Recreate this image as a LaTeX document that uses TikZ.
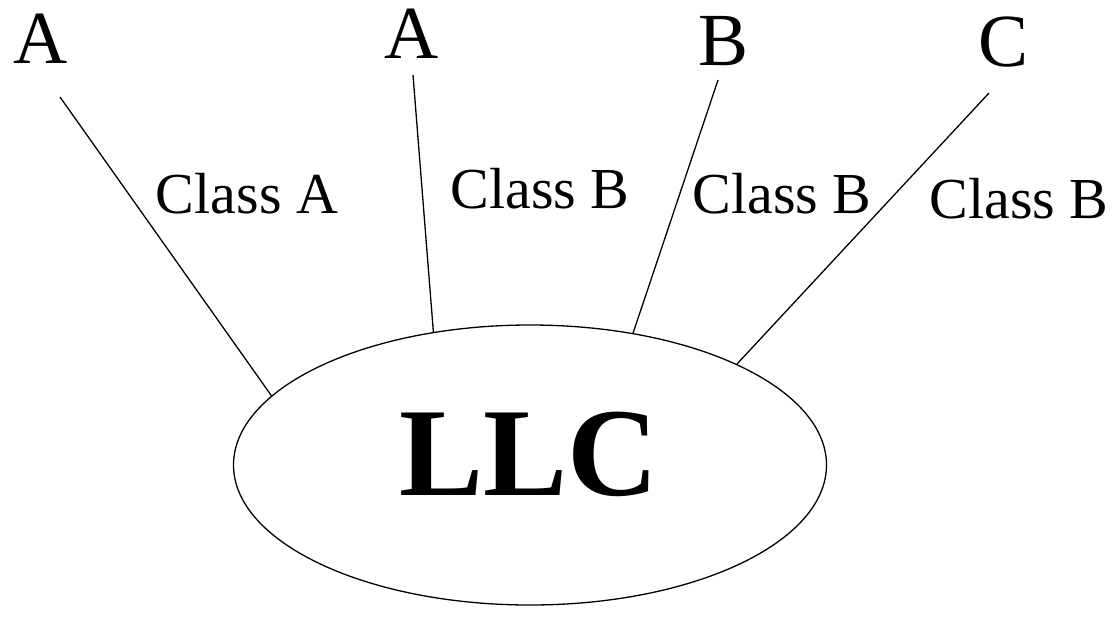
\documentclass[tikz,border=0pt]{standalone}
\usepackage{fontspec}
\setmainfont{Liberation Serif}
\usetikzlibrary{shapes.geometric}
\tikzset{
  every node/.style={text=black, inner sep=0pt},
  leaf/.style={font=\fontsize{75}{80}\selectfont, anchor=base},
  classlabel/.style={font=\fontsize{58}{64}\selectfont, anchor=base},
  hub/.style={ellipse, draw=black, line width=1.3pt, minimum width=593pt,
    minimum height=280pt},
  link/.style={draw=black, line width=1.3pt},
}
\begin{document}
\begin{tikzpicture}[x=1pt,y=-1pt]
  \useasboundingbox (0,0) rectangle (1113,622);

  % Central LLC ellipse
  \node[hub] (llc) at (530,465) {};
  \node[font=\fontsize{126}{130}\selectfont\bfseries, anchor=base] (llctext) at (529,495) {LLC};

  % Stations along the top
  \node[leaf] (staA1) at (41,63) {A};
  \node[leaf] (staA2) at (412,58) {A};
  \node[leaf] (staB)  at (724,65) {B};
  \node[leaf] (staC)  at (1003,66) {C};

  % Free ends of the links under the stations
  \coordinate (endA1) at (60,97);
  \coordinate (endA2) at (413,75);
  \coordinate (endB)  at (718,80);
  \coordinate (endC)  at (989,93);

  % Links into the ellipse
  \draw[link] (endA1) -- (llc.165.6);
  \draw[link] (endA2) -- (llc.126.3);
  \draw[link] (endB)  -- (llc.52.4);
  \draw[link] (endC)  -- (llc.26.6);

  % Service class of each link
  \node[classlabel] (clsA1) at (247,213) {Class A};
  \node[classlabel] (clsA2) at (540,208) {Class B};
  \node[classlabel] (clsB)  at (782,213) {Class B};
  \node[classlabel] (clsC)  at (1019,218) {Class B};
\end{tikzpicture}
\end{document}
